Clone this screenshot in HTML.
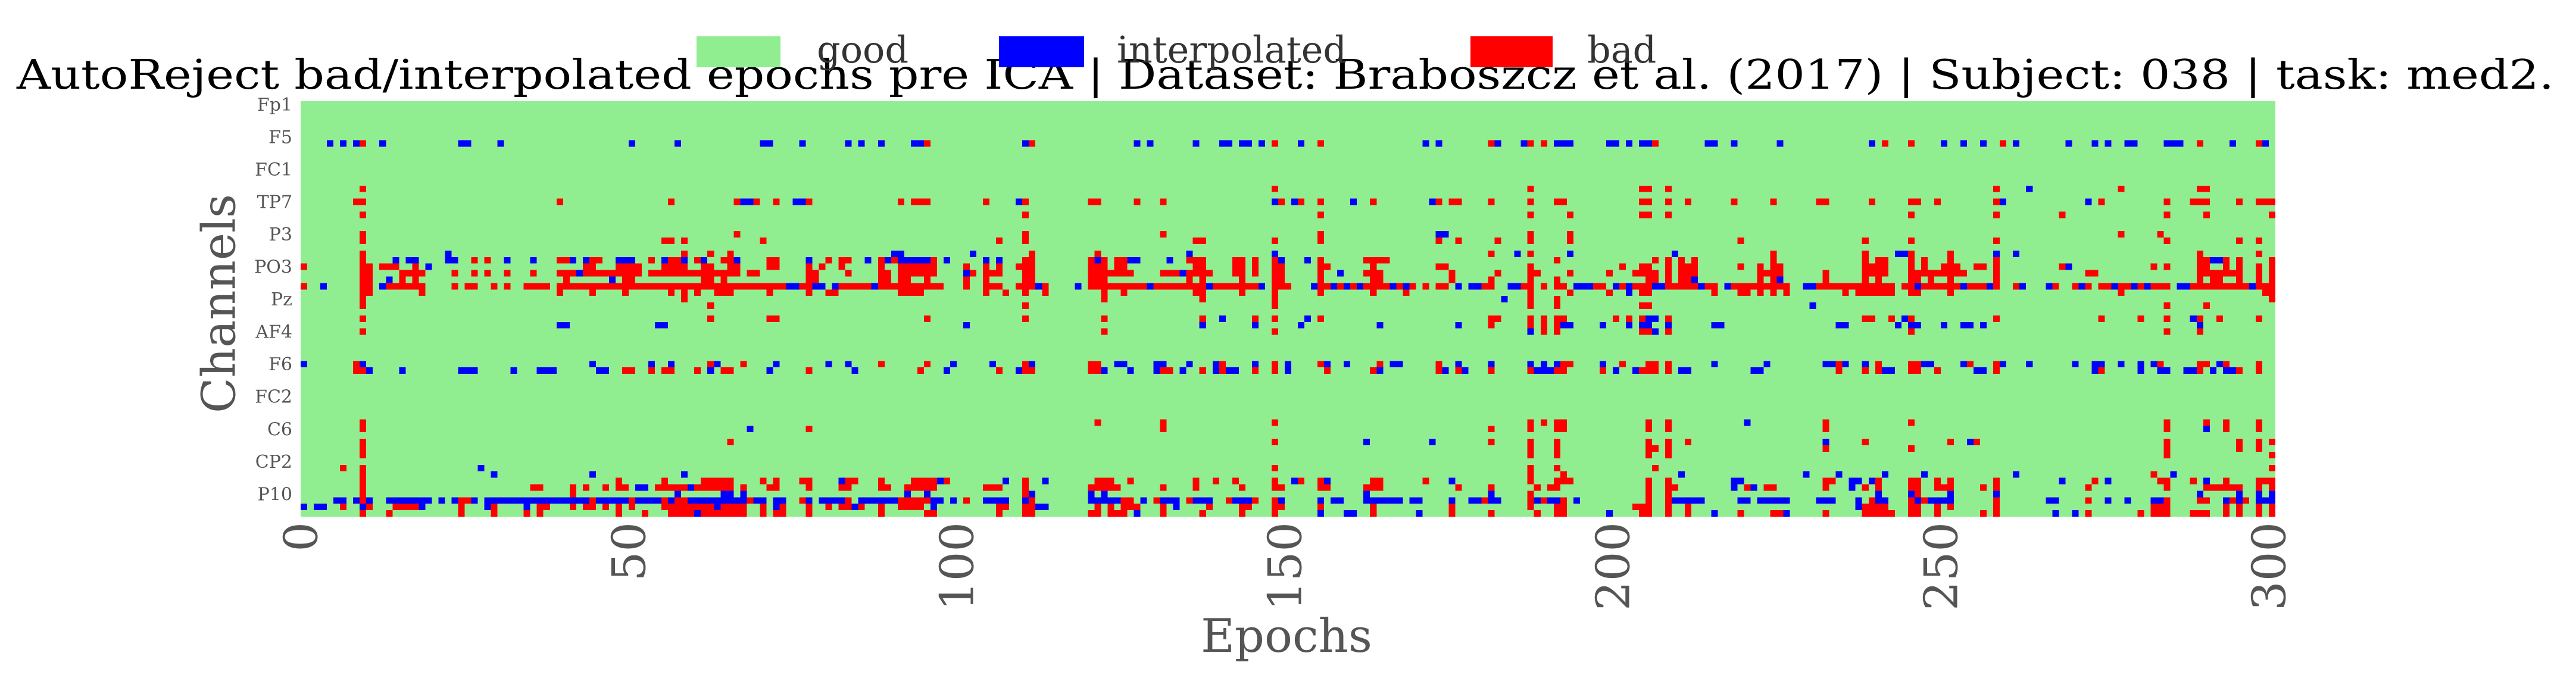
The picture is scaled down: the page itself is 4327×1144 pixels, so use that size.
<!DOCTYPE html>
<html><head><meta charset="utf-8"><style>
html,body{margin:0;padding:0;background:#fff;}
svg{display:block;}
text{font-family:"DejaVu Serif","Liberation Serif",serif;}
</style></head><body>
<svg id="chart" width="4327" height="1144" viewBox="0 0 4327 1144" xmlns="http://www.w3.org/2000/svg" shape-rendering="crispEdges">
<text x="2159" y="149" font-size="68" text-anchor="middle" textLength="4262" lengthAdjust="spacingAndGlyphs" fill="#000">AutoReject bad/interpolated epochs pre ICA | Dataset: Braboszcz et al. (2017) | Subject: 038 | task: med2.</text>
<rect id="plotbg" x="505" y="170" width="3317" height="698" fill="#90EE90"/>
<g id="cells"></g>
<g id="yticks"></g>
<g id="xticks"></g>
<text x="367" y="510" font-size="78" fill="#555" text-anchor="middle" transform="rotate(-90 367 510)" dy="0.35em">Channels</text>
<text x="2161" y="1095" font-size="78" fill="#555" text-anchor="middle">Epochs</text>
<g>
<rect x="1170" y="61" width="141" height="52" fill="#90EE90"/>
<text x="1372" y="105" font-size="62" fill="#333">good</text>
<rect x="1678" y="61" width="143" height="52" fill="#0000FF"/>
<text x="1876" y="105" font-size="62" fill="#333">interpolated</text>
<rect x="2470" y="61" width="138" height="52" fill="#FF0000"/>
<text x="2666" y="105" font-size="62" fill="#333">bad</text>
</g>
</svg>
<script>
const nEpochs = 301;
const channelLabels = ["Fp1","F5","FC1","TP7","P3","PO3","Pz","AF4","F6","FC2","C6","CP2","P10"];
const channelLabelRows = [0,5,10,15,20,25,30,35,40,45,50,55,60];
const nChannels = 64;
const xTickValues = [0,50,100,150,200,250,300];
const rowIds = [6,13,15,17,20,21,23,24,25,26,27,28,29,30,31,33,34,35,40,41,49,50,52,53,54,56,57,58,59,60,61,62,63];
const cellSpecs = [
"b4 b6 b8 r9 b12 b24-25 b30 b50 b57 b70-71 b76 b83 b85 b88 b93-94 r95 b110 r111 b127 b129 b136 b140-141 b143-144 b146 r148 b152 r155 b171 b173 r181 b182 b186 r187 r189 b191-193 b199-200 b202 b204-205 r206 b214-215 b218 b225 b239 r241 r245 b250 b253 b256 r259 b261 b269 b273 b275 b278-279 b284-286 r289 b294 r298 b299",
"r9 r148 r187 r204 r205 r208 r258 b263 r277 r289-290",
"r8-9 r39 r56 r66 b67-68 r69 r72 b75-76 r77 r91 r93-95 r104 b109 r110 r120-121 r127 r131 b148 r149 b151 r152 r155 b160 r163 b172 r173 r175-176 r181 r187 r191-192 r204 r205 r208 r211 r218 r224 r231-232 r239 r245-246 r249 r258 b259 b272 r274 r284 r288-290 r295 r298-300",
"r9 r110 r155 r187 r193 r204 r205 r208 r245 r258 r268 r284 r290 r300",
"r9 r66 r110 r131 r155 b173-174 r187 r193 r277 r283",
"r9 r55-56 r58 r70 r106 r110 r136-137 r148 r155 r173 r176 r182 r187 r193 r219 r238 r245 r258 r284 r295 r298",
"r9 b22 r58 r62 r65 b90-91 b102 r111 r121 b135 b148 r181 b185 r187 b193 b209 r224 r238 b243-244 r245 r251 b258 b261 r289 r298",
"r9 b14 b16-17 b22-23 r26 r28 b31 b35 r39-40 b41 b43 r44-45 b48-50 r53 b55 r56-57 b58 r60 b61 r64-65 b66 r71-72 b77 r80 r82-83 b86 r88 b89 r90 b91-95 r96 b98 b104 b106 r110-111 r120 b121 r122 r124-125 b126-127 b132 r135-137 r142-143 r145 r148 b149 b153 r155 r162-165 r191 r206 r208 r210 r212 r224 r238 r240-241 r245 r247 r251 r258 r289-290 b291-292 r293 r295 r300",
"r0 r9-10 r12-14 r17 b19 r43-44 r48-51 r55-58 r61-62 r65-66 r71-72 r77 r79 r82 r88 r91-96 r101 r104 r106 r109 r110-111 r120-122 r124-125 r136-137 r142-143 r145 r148-149 r155-156 r163 r173-174 r187 r201 r204 r205 r208 r210-212 r219 r222 r224-225 r238-241 r245 r247 r250-252 r255-256 r258 r268 b269 r282 r284 r289-290 r293 r295 r298 r300",
"r9-10 r15-18 r23 r26 r28 r31 r35 r39-41 b42 r43-51 r53-66 r68-69 r77-78 r83 r88-89 r91-96 b101 r102 r104-106 r110-111 r120-126 r131-133 b134 r135-138 r142-143 r145 r148-149 r155 b158 r162-164 r175 r182 r187-188 r193 r199 r203-206 r208 r210-212 r222-225 r232 r238-241 r245-253 r258 r272-273 r289-295 r298 r300",
"r9-10 b13 r15 r17 r40 b47 r49-50 r61-62 r64 r77-78 r88-89 r91-92 r95 r101 r104 r110-111 r120-122 r135 r137 r143 r148-149 r155 r163-164 r175 r181 r187 r191 r205-206 r208 r210-211 b212 r222 r224 b225 r232 r238 r240 r245-246 r248 r251 r258 r289 r291-292 r295 r298 r300",
"r0 b3 r9-10 b12 r13-18 r23 r25-26 r29 r31 r34-37 r39-73 b74-75 r76-77 b78-79 b81 r82-86 b87 r88-97 r101 r104-106 r109-111 b112 r113 b118 r120-128 b129 r130-137 b138 r139-145 b146 r148-150 b154 r155-156 b157 r158 b159 r160 b161 r162-165 b166 r167 b168 r169 r171 r173-174 b176 b178-179 r180-181 b184-185 r186-187 r189 r191-192 b194-196 r197-198 b200 r201 b202 r203-205 b206-207 r208-212 b213 r214-215 b217 r218-226 b229-230 r231-242 r244-245 b246 r247-252 b253 r254-256 b257 r258 r261 b262 b266 r267 r270 b271 r272 r274-275 b276 r277-278 b279 r280 b281 r282-284 b286-287 r288-296 b297 r298-300",
"r9-10 r18 r39 r44 r49 r56 r58 r60 r63-65 r71 r77 r80-81 r91-94 r104 r107 r110 r113 r122 r125 r136-137 r143 r148 r155 r163 r168 r187 r193 r199 b202 r204 r205 r215 r219-220 r222 r224 r226 r235 r237-242 r245-246 r251 r277 r299-300",
"r9 r58 r122 r137 r148 b183 r187 r191 r300",
"r9 r62 r110 r148 r187 r191 r204 r205 b230 r284 r290",
"r9 r62 r71-72 r95 r110 r122 r137 b140 r145 r148 b153 r155 r181-182 r187 r189 r191-192 r200 r202 r204 b205 b206 r208 r238-239 r242 b244 r245 r258 r274 r280 r284 b288 r289 r292 r298",
"b39-40 b54-55 b101 b137 b145 b152 b164 b176 r181 r187 r189 r191 b192-193 b198 b202 b204 b205 b208 b215-216 b234-235 b243 b245-246 b250 b253-254 b256 b289",
"r9 r122 r148 b187 r189 r191 r204 r205 b206 r208 r245 r284 r289",
"b0 r8 b9 b44 b53 r56 b56 r62 b63 r67 b72 b80 b83 r88 r95 b99 b105 r110 b111 r120-121 b124-125 b130-131 b135 b139 r140 b145 r148 b150 r155 b156 b159 r164 b166-167 r173 b176 b181 b187 b189 b191 r192-193 b198 r201 r205-206 r208 b215 b223 b232-233 r234 b235 b238 r240 r245-246 b247-248 b253 r254 r258 b259 b263 b270 b273-274 b277 b280 b282 r283 r289-290 b292 r293 r298",
"r8-9 b10 b15 b24-26 b32 b36-38 b45-46 r49-50 r53 r55 r56 r60 b62 r64-65 b71 r77 b84 r94 b98 r106 b109 r110-111 r120-121 b122 b126 b130 r131-132 b134 r137 b139 r140 b141-142 r145 r148 b150 r156 r163 b164 r173 b174 r176 b177 r181 r187 b188-190 r191-192 r198 b200 b203 r204-206 r208 b210-211 b221-222 r234 r238 r240 b241-242 r245-246 r249 b255-256 r258 b273 r274 b280 b283-284 b287-288 r289 b291 b293-294 r295 r298",
"r9 r121 r131 r148 r187 r189 r191-192 r205 r208 b220 r232 r245 r284 r290 r293 r298",
"r9 b68 r77 r131 r181 r187 r191-192 r205 r208 r232 r284 b290 r293 r298",
"r9 r65 r148 b162 b172 r181 r187 r191 r205 r208 r211 b232 r238 r251 b254 r255 r284 r295 r298 r300",
"r9 r187 r191 r205-206 r208 r232 r245 r284 r295 r298",
"r9 r187 r191 r205 r208 r284 r300",
"r6 r9 b27 r148 r187 r191 r206 r300",
"r9 b29 b44 b58 r187 r192 b210 b229 b234 b241 b247 b261 r282 b285",
"r9 r48 r55 r61-65 r70 r72 r76-77 b82 r83-84 r88 r93-96 b97 r98 b107 r110 b113 r121-123 r126 r136 r139 r142 r148 b151 r152 r155 b156 r163-164 r171 b175 r187 r191-193 r205 r208 b218-219 r232-233 b236-237 b239 r240 r245-246 r249 r251 r258 b268 r273 b275 r283-284 r288 b290 r293 r298-300",
"r9 r35-36 r41 r43 r46 r48-49 b51-52 r54-58 b59 r60-65 r67 r71-72 r77 r82-83 r88-89 r92-96 r104-106 r110 r120-124 r131 r136 r143 r148-149 r155-156 r162-164 r176 r181 r188 r190 r191 r205 r208-209 b218 r220 b221 r223-224 r232 b236 r238 r240 r245-246 r249-251 r256 r258 r272 r284 r290-295 r298 r300",
"r9 r41 b57 b64-65 b67 b92 b95 r110 b111 b120 b122 b162 b181 r187 r205 r208 b240 b245 r246 b251 b258 b289 b295 b298 b300",
"b5-6 b8 r9 b10 b13-19 b21 b23 r24-25 b26 b28-43 r44 b45-49 r50 b51-54 r55 b56 r57-58 b59-67 r68 b69-70 b72-73 r76 b77 b79-82 r83 b85-90 r91-95 b96-97 b99 r101 b104-107 b110 r111 b120-124 r125-126 b128 r130 b131-133 r135 b136-138 r141 b142-144 r145 r148 b149 b155 b157-158 b162-167 b169-170 b175 b178-179 r180 b181-182 r187 b188 r189 b190-191 r192 b194 r205 r208 b209-213 b219-220 b222-226 b231-233 b237 r239 b240-241 r245 b246 r247 b248-251 r258 b266-267 r272 b275 b278 b282-283 r284 r289-290 b293 r294 b295 r296 b298-300",
"b0 b2-3 r6 b9 r10 r14-17 b18 r24 b28 r29 b34 r36-37 r41 r43-44 r46 r48 r50 r55-62 b63 r64-67 r70 b72 r73 r77 r80 r82-83 b84 r85 r88 r91-94 b96 r106-107 r110-111 b112-113 r121 r123 r125-127 r131 b133 r138 r143-144 r148-149 r155 r163 r175 r187 r191-192 r203-205 r208 r211 b237 r238-241 r245-246 r249 r251 r258 r282-284 r293 r295 r298 r300",
"r9 r13 r24 r29 r34 r36 r48 r52 r56-59 b60 r61-67 r70 r72-73 r77 r88 r95-96 r106 r110-111 r120-121 r123-125 b127 r131 r137 r143 r148 b155 b159-160 r163 b170 r175 r181 r188 r191-192 b199 r204-205 r208 r211 b215 r219 r224-225 b226 r232 r238-242 r245-246 r249 r256 r258 b267 b270 r272 r280 r282-284 r288-290 r293 r295 r298 r300"
];
const colorBad = "#FF0000";
const colorInterp = "#0000FF";
const plotLeft = 505, plotTop = 170, plotW = 3317, plotH = 698;
function xScale(e){ return plotLeft + e * plotW / nEpochs; }
function yScale(r){ return plotTop + r * plotH / nChannels; }
const NS = "http://www.w3.org/2000/svg";
const cellsG = document.getElementById("cells");
rowIds.forEach(function(row, i){
  cellSpecs[i].split(/\s+/).forEach(function(tok){
    if(!tok) return;
    const kind = tok[0];
    const parts = tok.slice(1).split("-").map(Number);
    const a = parts[0], b = parts.length > 1 ? parts[1] : parts[0];
    const rect = document.createElementNS(NS, "rect");
    
    
    const x0 = xScale(a), x1 = xScale(Math.min(b + 1, nEpochs));
    rect.setAttribute("x", x0);
    rect.setAttribute("y", yScale(row));
    rect.setAttribute("width", x1 - x0);
    rect.setAttribute("height", plotH / nChannels);
    rect.setAttribute("fill", kind === "r" ? colorBad : colorInterp);
    cellsG.appendChild(rect);
  });
});
const yG = document.getElementById("yticks");
channelLabels.forEach(function(lab, i){
  const t = document.createElementNS(NS, "text");
  
  
  t.setAttribute("x", 491);
  t.setAttribute("y", yScale(channelLabelRows[i] + 0.5));
  t.setAttribute("dy", "0.35em");
  t.setAttribute("text-anchor", "end");
  t.setAttribute("font-size", "30");
  t.setAttribute("fill", "#555");
  t.textContent = lab;
  yG.appendChild(t);
});
const xG = document.getElementById("xticks");
xTickValues.forEach(function(v){
  const x = plotLeft + v * 11.02;
  const t = document.createElementNS(NS, "text");
  
  
  t.setAttribute("x", x);
  t.setAttribute("y", 877);
  t.setAttribute("dy", "0.35em");
  t.setAttribute("text-anchor", "end");
  t.setAttribute("font-size", "78");
  t.setAttribute("fill", "#555");
  t.setAttribute("transform", "rotate(-90 " + x + " 877)");
  t.textContent = String(v);
  xG.appendChild(t);
});
</script>
</body></html>
